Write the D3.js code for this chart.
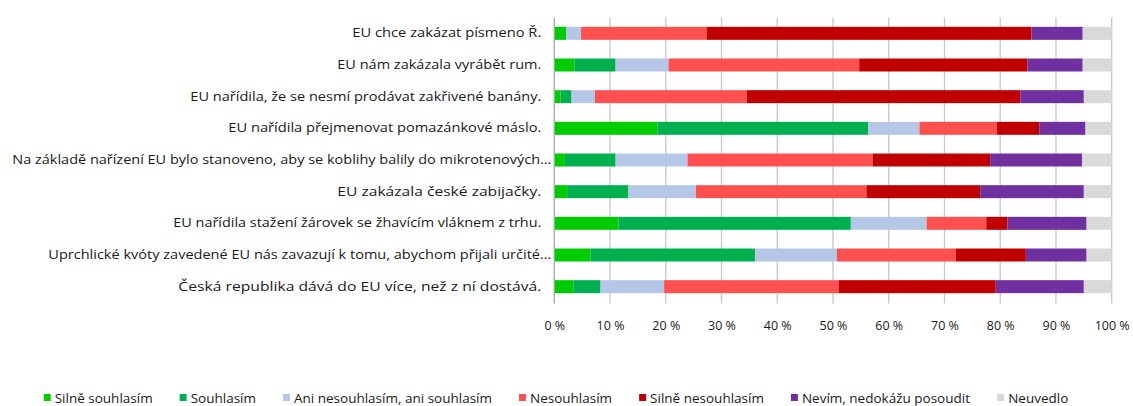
<!DOCTYPE html>
<html>
<head>
<meta charset="utf-8">
<script src="https://cdn.jsdelivr.net/npm/d3@7/dist/d3.min.js"></script>
<style>
  html, body { margin: 0; padding: 0; background: #fff; }
  svg { display: block; font-family: "Open Sans", "Liberation Sans", sans-serif; }
</style>
</head>
<body>
<svg id="chart" width="1133" height="406"></svg>
<script>
// ---- data ----
const categories = [
  "EU chce zakázat písmeno Ř.",
  "EU nám zakázala vyrábět rum.",
  "EU nařídila, že se nesmí prodávat zakřivené banány.",
  "EU nařídila přejmenovat pomazánkové máslo.",
  "Na základě nařízení EU bylo stanoveno, aby se koblihy balily do mikrotenových…",
  "EU zakázala české zabijačky.",
  "EU nařídila stažení žárovek se žhavícím vláknem z trhu.",
  "Uprchlické kvóty zavedené EU nás zavazují k tomu, abychom přijali určité…",
  "Česká republika dává do EU více, než z ní dostává."
];
const seriesNames = ["Silně souhlasím", "Souhlasím", "Ani nesouhlasím, ani souhlasím", "Nesouhlasím", "Silně nesouhlasím", "Nevím, nedokážu posoudit", "Neuvedlo"];
const silneSouhlasim   = [2.1, 3.6, 1.1, 18.5, 1.9, 2.3, 11.5, 6.5, 3.4];
const souhlasim        = [0.0, 7.4, 2.0, 37.8, 9.1, 11.0, 41.7, 29.5, 4.9];
const aniNesouhlasim   = [2.7, 9.5, 4.2, 9.2, 12.9, 12.1, 13.6, 14.7, 11.4];
const nesouhlasim      = [22.5, 34.2, 27.2, 13.9, 33.2, 30.6, 10.7, 21.3, 31.3];
const silneNesouhlasim = [58.3, 30.2, 49.1, 7.6, 21.1, 20.4, 3.8, 12.6, 28.2];
const nevim            = [9.2, 9.9, 11.4, 8.3, 16.5, 18.6, 14.2, 10.9, 15.8];
const neuvedlo         = [5.2, 5.2, 5.0, 4.7, 5.3, 5.0, 4.5, 4.5, 5.0];
const xTicks = [0, 10, 20, 30, 40, 50, 60, 70, 80, 90, 100];

// ---- layout / style ----
const colors = ["#00cc00", "#00b050", "#b4c7e7", "#ff5050", "#c00000", "#7030a0", "#d9d9d9"];
const labelWidthsPx = [189, 204, 351, 313, 539, 204, 368, 503, 363];
const X0 = 554.3, X1 = 1111.7, YTOP = 17.5, YBOT = 302.5;

const seriesArrays = [silneSouhlasim, souhlasim, aniNesouhlasim, nesouhlasim, silneNesouhlasim, nevim, neuvedlo];
const table = categories.map((c, i) => {
  const row = { cat: c };
  seriesNames.forEach((s, k) => row[s] = seriesArrays[k][i]);
  return row;
});
const stacked = d3.stack().keys(seriesNames)(table);

const svg = d3.select("#chart");
const x = d3.scaleLinear().domain([0, 100]).range([X0, X1]);
const y = d3.scaleBand().domain(categories).range([YTOP, YBOT]).paddingInner(0.59).paddingOuter(0.295);
const color = d3.scaleOrdinal().domain(seriesNames).range(colors);

// gridlines
svg.append("g").selectAll("line").data(xTicks.slice(1)).join("line")
  .attr("x1", d => x(d)).attr("x2", d => x(d))
  .attr("y1", YTOP).attr("y2", YBOT + 1)
  .attr("stroke", "#c6c6c6").attr("stroke-width", 1.3);

// bars
svg.append("g").selectAll("g").data(stacked).join("g")
  .attr("fill", d => color(d.key))
  .selectAll("rect").data(d => d).join("rect")
  .attr("x", d => x(d[0]))
  .attr("width", d => Math.max(0, x(d[1]) - x(d[0])))
  .attr("y", d => y(d.data.cat))
  .attr("height", y.bandwidth());

// vertical axis line
svg.append("line").attr("x1", X0).attr("x2", X0).attr("y1", YTOP).attr("y2", YBOT + 1)
  .attr("stroke", "#a6a6a6").attr("stroke-width", 1.3);

// y labels
const yAxis = d3.axisLeft(y).tickSize(0).tickPadding(13);
const gy = svg.append("g").attr("transform", `translate(${X0},0)`).call(yAxis);
gy.select(".domain").remove();
gy.selectAll(".tick text")
  .attr("font-size", 12.5)
  .attr("font-family", "Open Sans, sans-serif")
  .attr("fill", "#1a1a1a")
  .attr("dx", d => d.endsWith("…") ? 10 : 0)
  .each(function(d) {
    const idx = categories.indexOf(d);
    d3.select(this).attr("textLength", labelWidthsPx[idx]).attr("lengthAdjust", "spacingAndGlyphs");
  });

// x axis labels
const xAxis = d3.axisBottom(x).tickValues(xTicks).tickSize(0).tickPadding(0).tickFormat(d => d + " %");
const gx = svg.append("g").attr("transform", `translate(0,${YBOT})`).call(xAxis);
gx.select(".domain").remove();
gx.selectAll(".tick text")
  .attr("font-size", 12.5)
  .attr("font-family", "Open Sans, sans-serif")
  .attr("fill", "#1a1a1a")
  .attr("dy", "2.2em");

// legend
const legend = svg.append("g");
const items = legend.selectAll("g").data(seriesNames).join("g");
items.append("rect").attr("width", 7).attr("height", 7).attr("y", -4).attr("fill", d => color(d));
items.append("text").attr("x", 11).attr("dy", "0.35em")
  .attr("font-size", 13.5).attr("fill", "#1a1a1a").text(d => d);
let widths = [];
items.each(function() { widths.push(this.getBBox().width); });
const gap = 27;
const total = d3.sum(widths) + gap * (widths.length - 1);
let cx = 556 - total / 2;
items.attr("transform", (d, i) => {
  const t = `translate(${cx},398)`;
  cx += widths[i] + gap;
  return t;
});
</script>
</body>
</html>
